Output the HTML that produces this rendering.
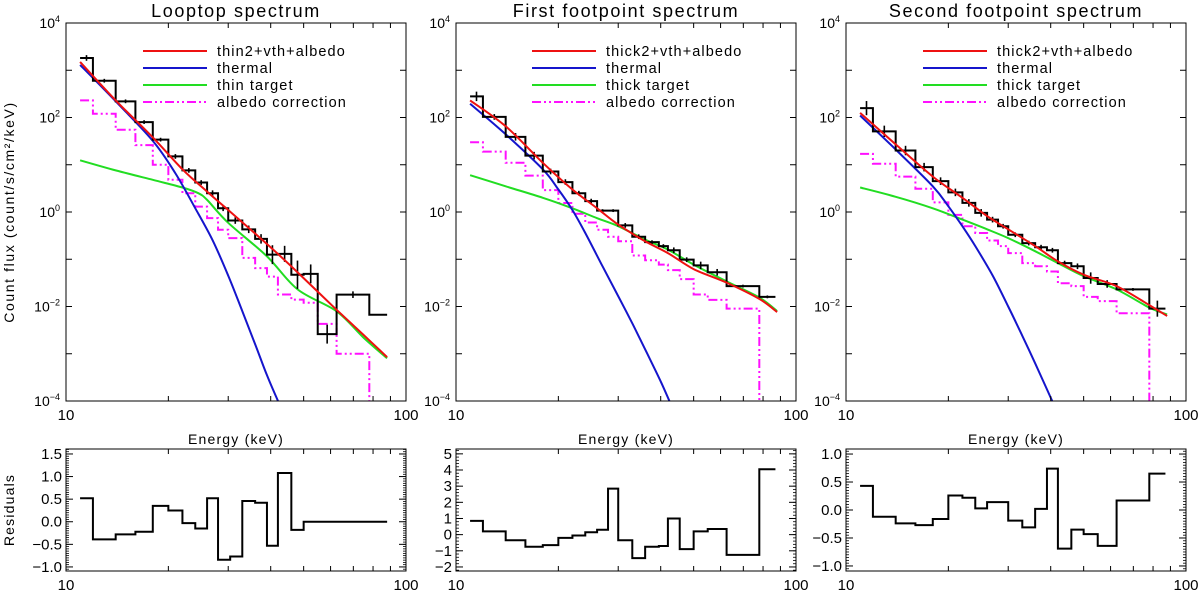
<!DOCTYPE html>
<html><head><meta charset="utf-8">
<style>
html,body{margin:0;padding:0;background:#fff;}
svg{display:block;font-family:"Liberation Sans",sans-serif;}
</style></head>
<body>
<svg id="chart" width="1200" height="596" viewBox="0 0 1200 596" xmlns="http://www.w3.org/2000/svg">
<rect x="0" y="0" width="1200" height="596" fill="#fff"/>
<text transform="translate(14,212) rotate(-90)" text-anchor="middle" font-size="14" letter-spacing="1.6">Count flux (count/s/cm²/keV)</text>
<text transform="translate(14,510) rotate(-90)" text-anchor="middle" font-size="14" letter-spacing="1.2">Residuals</text>
</svg>
<script>
// ---------- data ----------
const TITLES = ["Looptop spectrum","First footpoint spectrum","Second footpoint spectrum"];
const LEG_MODEL = ["thin2+vth+albedo","thick2+vth+albedo","thick2+vth+albedo"];
const LEG_NT = ["thin target","thick target","thick target"];

const EDGES1 = [11,12,14,16,18,20,22,24,26,28,30,33,36,39,42,46,50,55,62.5,78,88];
const FLUX1 = [1820,600,220,80,34,15,7.6,4.2,2.5,1.2,0.66,0.43,0.27,0.125,0.13,0.047,0.049,0.0026,0.0178,0.0067];
const ERR1 = [0.06,0.04,0.04,0.04,0.04,0.05,0.05,0.05,0.06,0.06,0.07,0.08,0.1,0.2,0.17,0.3,0.2,0.2,0.07,0.0];
const ALB1 = [230,120,55,26,10,4.8,2.5,1.3,0.74,0.42,0.28,0.107,0.065,0.043,0.018,0.014,0.012,0.0043,0.001,1e-6];
const RED_E1 = [11,14,18,22,26,30,36,42,50,62,75,88];
const RED1 = [1500,230,38,8,2.7,1.1,0.35,0.13,0.04,0.009,0.0025,0.00085];
const BLUE_E1 = [11,14,18,21,24,27,30,33,36,39,42.6];
const BLUE1 = [1300,220,32,6.5,1.2,0.25,0.045,0.008,0.0016,0.00035,0.00008];
const GREEN_E1 = [11,14,18,22,24.5,26,30,39,48,62.5,75,88];
const GREEN1 = [12.4,7.6,4.8,3.3,2.5,1.8,0.59,0.115,0.023,0.0079,0.0022,0.0008];
const REDGES1 = [11,12,14,16,18,20,22,24,26,28,30.4,33,36,39,42,46,50,88];
const RES1 = [0.52,-0.39,-0.28,-0.22,0.35,0.25,-0.03,-0.15,0.52,-0.84,-0.77,0.46,0.42,-0.53,1.08,-0.18,0];
const RTICKS1 = ["1.5","1.0","0.5","0.0","-0.5","-1.0"];

const EDGES2 = [11,12,14,16,18,20,22,24,26,28,30,33,36,39.5,42,45.5,50,55,62.5,78,87];
const FLUX2 = [280,103,39,15.6,7.2,4.3,2.5,1.7,1.07,1.07,0.52,0.30,0.23,0.19,0.155,0.098,0.074,0.053,0.027,0.016];
const ERR2 = [0.1,0.06,0.08,0.08,0.06,0.06,0.05,0.05,0.03,0.03,0.05,0.05,0.04,0.04,0.06,0.05,0.08,0.07,0.03,0.03];
const ALB2 = [30,19,11,5.9,2.9,1.55,0.92,0.60,0.42,0.30,0.24,0.12,0.095,0.077,0.059,0.038,0.018,0.0138,0.009,1e-6];
const RED_E2 = [11,14,18,22,26,30,36,42,50,62.5,78,88];
const RED2 = [230,65,11,3.0,1.2,0.54,0.24,0.135,0.062,0.032,0.0145,0.0076];
const BLUE_E2 = [11,14,18,20,22,24,27,30,33,36.4,40,43];
const BLUE2 = [195,44,8,3,1.1,0.36,0.07,0.0166,0.0044,0.00105,0.00026,0.00008];
const GREEN_E2 = [11,14,18,22,26,30,36,42,50,62.5,78,88];
const GREEN2 = [6,3.5,2,1.2,0.74,0.5,0.26,0.16,0.077,0.034,0.0155,0.008];
const REDGES2 = [11,12,14,16,18,20,22,24,26,28,30,33,36,39.5,42,45.5,50,55,62.5,78,87];
const RES2 = [0.85,0.2,-0.35,-0.75,-0.65,-0.2,-0.05,0.15,0.3,2.85,-0.35,-1.45,-0.75,-0.7,1.0,-0.9,0.2,0.35,-1.25,4.05];
const RTICKS2 = ["5","4","3","2","1","0","-1","-2"];

const EDGES3 = [11,12,14,16,18,20,22,24,26,28,30,33,36,39,42,46,50,55,62.5,78,87];
const FLUX3 = [158,51,20,8.9,4.5,2.6,1.56,0.96,0.69,0.50,0.33,0.22,0.18,0.155,0.083,0.071,0.040,0.030,0.023,0.009];
const ERR3 = [0.15,0.12,0.1,0.09,0.08,0.08,0.08,0.08,0.06,0.05,0.05,0.05,0.05,0.05,0.05,0.06,0.12,0.08,0.03,0.17];
const ALB3 = [17,10.5,5.6,3.1,1.6,0.87,0.5,0.36,0.25,0.19,0.135,0.083,0.071,0.055,0.031,0.027,0.016,0.013,0.0072,1e-6];
const RED_E3 = [11,14,18,22,26,30,36,42,50,62.5,78,88];
const RED3 = [125,27,5.6,2,0.82,0.43,0.19,0.09,0.047,0.027,0.0107,0.0063];
const BLUE_E3 = [11,14,18,20,22,24,27,30,33,36,40.7];
const BLUE3 = [110,21,3.5,1.32,0.5,0.19,0.045,0.01,0.0024,0.00063,0.000089];
const GREEN_E3 = [11,14,18,22,26,30,36,42,50,62.5,78,88];
const GREEN3 = [3.3,2.1,1.2,0.69,0.43,0.28,0.148,0.083,0.044,0.023,0.0095,0.0068];
const REDGES3 = [11,12,14,16,18,20,22,24,26,30,33,36,39,42,46,50,55,62.5,78,87];
const RES3 = [0.43,-0.12,-0.24,-0.27,-0.16,0.26,0.22,0.03,0.14,-0.19,-0.31,0.02,0.74,-0.69,-0.35,-0.43,-0.64,0.17,0.65];
const RTICKS3 = ["1.0","0.5","0.0","-0.5","-1.0"];

// ---------- layout ----------
const NS = "http://www.w3.org/2000/svg";
const svg = document.getElementById("chart");
const LEFTS = [66,456,846], PW = 340;
const TOP_Y0 = 23, TOP_Y1 = 401, RES_Y0 = 449, RES_Y1 = 571;
const RES_RANGES = [[-1.09,1.61],[-2.25,5.3],[-1.09,1.09]];
const C_RED = "#ee1111", C_BLUE = "#1515cc", C_GREEN = "#22dd22", C_MAG = "#ff10ff";

function mk(tag, attrs, parent){
  const e = document.createElementNS(NS, tag);
  for (const k in attrs) e.setAttribute(k, attrs[k]);
  (parent||svg).appendChild(e);
  return e;
}
function xs(L){ return E => L + (Math.log10(E)-1)*PW; }
function ysTop(v){ return TOP_Y0 + (4 - Math.log10(Math.max(v,1e-8)))*(TOP_Y1-TOP_Y0)/8; }

function stepPath(X, Y, edges, vals){
  let d = "";
  for (let i=0;i<vals.length;i++){
    const x0 = X(edges[i]), x1 = X(edges[i+1]), y = Y(vals[i]);
    d += (i===0 ? "M"+x0+","+y : "L"+x0+","+y) + "L"+x1+","+y;
  }
  return d;
}
function linePath(X, Y, es, vs){
  const P = es.map((e,i)=>[X(e), Y(vs[i])]);
  let d = "M"+P[0][0].toFixed(1)+","+P[0][1].toFixed(1);
  for (let i=0;i<P.length-1;i++){
    const p0 = P[Math.max(i-1,0)], p1 = P[i], p2 = P[i+1], p3 = P[Math.min(i+2,P.length-1)];
    const c1 = [p1[0]+(p2[0]-p0[0])/6, p1[1]+(p2[1]-p0[1])/6];
    const c2 = [p2[0]-(p3[0]-p1[0])/6, p2[1]-(p3[1]-p1[1])/6];
    d += "C"+c1[0].toFixed(1)+","+c1[1].toFixed(1)+" "+c2[0].toFixed(1)+","+c2[1].toFixed(1)+" "+p2[0].toFixed(1)+","+p2[1].toFixed(1);
  }
  return d;
}

function drawPanel(p, edges, flux, err, alb, redE, red, blueE, blue, greenE, green, redges, res, rticks){
  const L = LEFTS[p], X = xs(L), R = L+PW;
  const g = mk("g", {});
  
  
  const t = mk("text", {x: L+PW/2, y: 17, "text-anchor":"middle", "font-size":"18", "letter-spacing":"1.6"}, g);
  t.textContent = TITLES[p];
  
  

  const cid = "clip"+p;
  const cp = mk("clipPath", {id:cid}, g);
  mk("rect", {x:L, y:TOP_Y0, width:PW, height:TOP_Y1-TOP_Y0}, cp);
  const plot = mk("g", {"clip-path":"url(#"+cid+")"}, g);
  
  

  const alp = mk("path", {d: stepPath(X, ysTop, edges, alb), fill:"none", stroke:C_MAG, "stroke-width":"2", "stroke-dasharray":"9,3,2,3,2,3"}, plot);
  
  
  const gp = mk("path", {d: linePath(X, ysTop, greenE, green), fill:"none", stroke:C_GREEN, "stroke-width":"2"}, plot);
  
  
  const bp = mk("path", {d: linePath(X, ysTop, blueE, blue), fill:"none", stroke:C_BLUE, "stroke-width":"2"}, plot);
  
  
  const hp = mk("path", {d: stepPath(X, ysTop, edges, flux), fill:"none", stroke:"#000", "stroke-width":"2"}, plot);
  
  
  for (let i=0;i<flux.length;i++){
    if (err[i] <= 0) continue;
    const xc = X(Math.sqrt(edges[i]*edges[i+1]));
    const lv = Math.log10(flux[i]);
    const eb = mk("line", {x1:xc, x2:xc, y1: ysTop(Math.pow(10,lv+err[i])), y2: ysTop(Math.pow(10,lv-err[i])), stroke:"#000", "stroke-width":"1.6"}, plot);
    
    
  }
  const rp = mk("path", {d: linePath(X, ysTop, redE, red), fill:"none", stroke:C_RED, "stroke-width":"2"}, plot);
  
  

  const fr = mk("rect", {x:L, y:TOP_Y0, width:PW, height:TOP_Y1-TOP_Y0, fill:"none", stroke:"#000", "stroke-width":"1"}, g);
  
  
  for (let k=-4;k<=4;k++){
    const y = ysTop(Math.pow(10,k));
    mk("line",{x1:L,x2:L+6,y1:y,y2:y,stroke:"#000"},g);
    mk("line",{x1:R-6,x2:R,y1:y,y2:y,stroke:"#000"},g);
    if (k%2===0){
      const tl = mk("text",{x:L-6,y:y+5,"text-anchor":"end","font-size":"14"},g);
      tl.textContent = "10";
      const ts = mk("tspan",{dy:"-6","font-size":"9"},tl);
      ts.textContent = k<0 ? "\u2212"+(-k) : ""+k;
      
      
    }
  }
  for (const yy of [[TOP_Y0,TOP_Y1],[RES_Y0,RES_Y1]]){
    for (let e=10;e<=100;e+=10){
      const x = X(e), big = (e===10||e===100);
      mk("line",{x1:x,x2:x,y1:yy[1],y2:yy[1]-(big?8:5),stroke:"#000"},g);
      mk("line",{x1:x,x2:x,y1:yy[0],y2:yy[0]+(big?8:5),stroke:"#000"},g);
    }
    const l10 = mk("text",{x:L,y:yy[1]+19,"text-anchor":"middle","font-size":"15"},g);
    l10.textContent = "10";
    
    
    const l100 = mk("text",{x:R,y:yy[1]+19,"text-anchor":"middle","font-size":"15"},g);
    l100.textContent = "100";
    
    
  }
  const xt = mk("text",{x:L+PW/2,y:444,"text-anchor":"middle","font-size":"14","letter-spacing":"1.2"},g);
  xt.textContent = "Energy (keV)";
  
  

  const names = [LEG_MODEL[p],"thermal",LEG_NT[p],"albedo correction"];
  const cols = [C_RED,C_BLUE,C_GREEN,C_MAG];
  const lx0 = L + (p===1 ? 76 : 77), lx1 = lx0 + 64;
  for (let i=0;i<4;i++){
    const y = 51 + i*17;
    const ll = mk("line",{x1:lx0,x2:lx1,y1:y,y2:y,stroke:cols[i],"stroke-width":"2"},g);
    if (i===3) ll.setAttribute("stroke-dasharray","9,3,2,3,2,3");
    
    
    const lt = mk("text",{x:lx1+10,y:y+5,"font-size":"14.5","letter-spacing":"1.1"},g);
    lt.textContent = names[i];
    
    
  }

  const rr = RES_RANGES[p];
  const YR = v => RES_Y1 - (v-rr[0])/(rr[1]-rr[0])*(RES_Y1-RES_Y0);
  const rsp = mk("path", {d: stepPath(X, YR, redges, res), fill:"none", stroke:"#000", "stroke-width":"2"}, g);
  
  
  const rf = mk("rect", {x:L, y:RES_Y0, width:PW, height:RES_Y1-RES_Y0, fill:"none", stroke:"#000", "stroke-width":"1"}, g);
  
  
  const minorStep = p===1 ? 0.2 : 0.05;
  for (let v=Math.ceil(rr[0]/minorStep)*minorStep; v<=rr[1]; v+=minorStep){
    const y = YR(v);
    mk("line",{x1:L,x2:L+3,y1:y,y2:y,stroke:"#000","stroke-width":"0.8"},g);
    mk("line",{x1:R-3,x2:R,y1:y,y2:y,stroke:"#000","stroke-width":"0.8"},g);
  }
  for (const s of rticks){
    const y = YR(parseFloat(s));
    mk("line",{x1:L,x2:L+7,y1:y,y2:y,stroke:"#000"},g);
    mk("line",{x1:R-7,x2:R,y1:y,y2:y,stroke:"#000"},g);
    const tl = mk("text",{x:L-4,y:y+5,"text-anchor":"end","font-size":"15"},g);
    tl.textContent = s.replace("-","\u2212");
    
    
  }
}

drawPanel(0, EDGES1, FLUX1, ERR1, ALB1, RED_E1, RED1, BLUE_E1, BLUE1, GREEN_E1, GREEN1, REDGES1, RES1, RTICKS1);
drawPanel(1, EDGES2, FLUX2, ERR2, ALB2, RED_E2, RED2, BLUE_E2, BLUE2, GREEN_E2, GREEN2, REDGES2, RES2, RTICKS2);
drawPanel(2, EDGES3, FLUX3, ERR3, ALB3, RED_E3, RED3, BLUE_E3, BLUE3, GREEN_E3, GREEN3, REDGES3, RES3, RTICKS3);
</script>
</body></html>
